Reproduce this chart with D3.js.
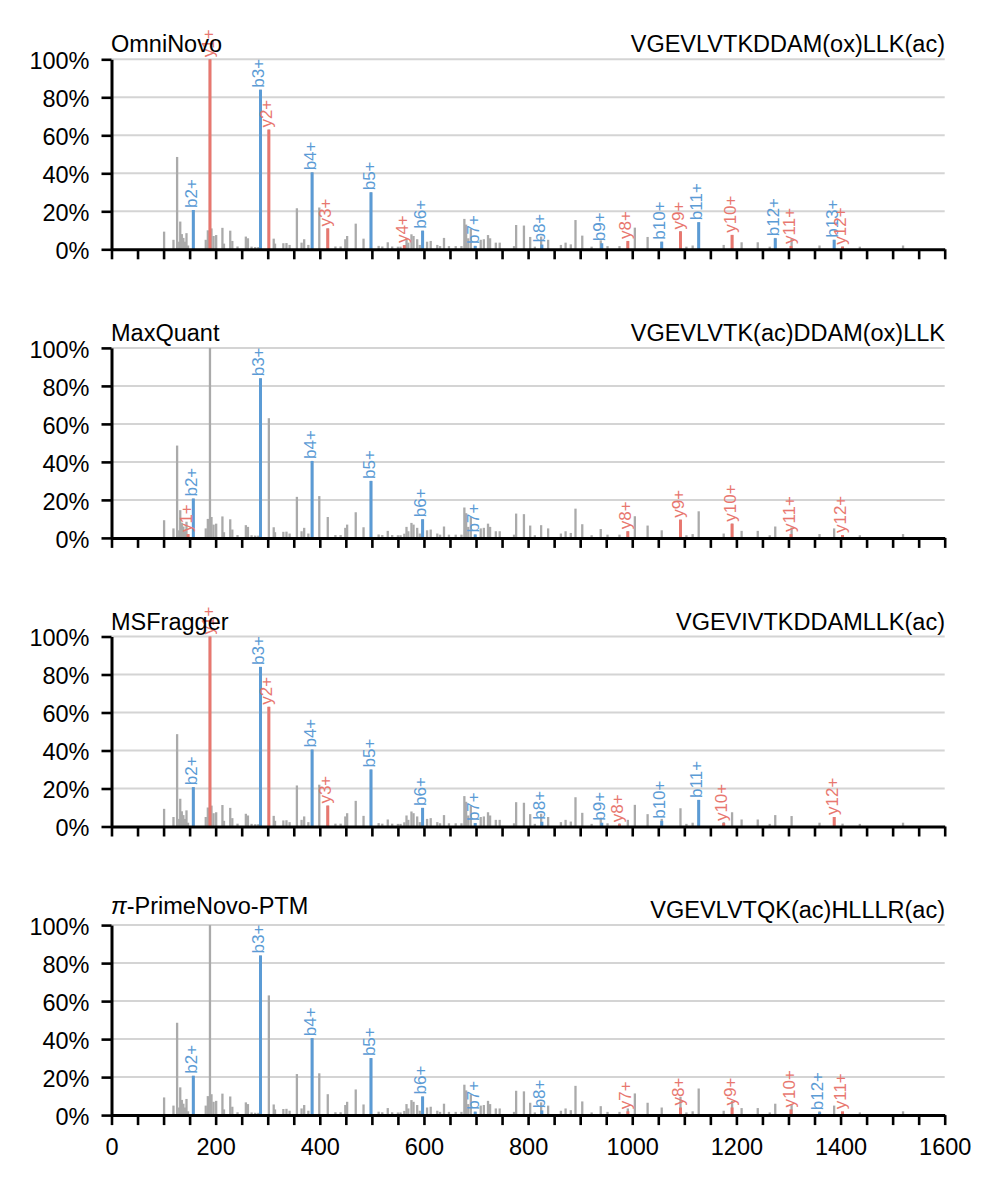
<!DOCTYPE html>
<html>
<head>
<meta charset="utf-8">
<script src="https://cdn.jsdelivr.net/npm/d3@7"></script>
<style>
html,body{margin:0;padding:0;background:#fff;}
svg{display:block;}
</style>
</head>
<body>
<svg id="chart" width="998" height="1186"></svg>
<script>
// ---- spectrum (shared by all panels): m/z and relative intensity (%) ----
const peakMz = [101,119,126,130,132,135,138,141,144,147,157.1,181,185,189.1,192,196,201,213,216,228,232,242,258,262,269,276,282,286.1,302.2,311.5,314,330,336,342,356,365,370,378,385.2,399,415.3,430,440,449,452.5,469,484,498.3,513,520,530.5,539,550,555,562.3,566.5,570,576,580,587,592,597.4,606,613,625.6,631,638.5,648,661,672,677.6,681,685,690,698.4,709,715,723,727,738,745.5,773,777,792,804,813,825,838.5,863,872,882,891,904,922,939.5,952.5,975.5,991.5,1005,1029.5,1056.6,1092.6,1104,1116,1127.6,1175.6,1191.7,1210,1241,1264,1274.6,1306,1359.6,1387.7,1403.8,1437,1520];
const peakInt = [9.3,5,48.6,4,14.6,8,6,4,8.5,2,20.7,5,10,100,11,7,7.5,11.3,3,9.8,4.4,1.5,6.7,5.8,1.4,1.2,1.2,84,63,5.6,3,3.2,3.3,2.3,21.6,3.5,5.3,2.3,40.5,22,11,1.5,1.5,5.3,7,13.5,5.6,30,1.8,1.5,3.7,1.5,1.4,1.4,2.2,5.8,3.5,7.9,7,5.3,2.3,9.8,4,4.4,2.3,1.7,6,1.7,1.7,1.7,16,13,5.8,11,1.8,5,5.3,7.5,5.8,3.5,3.5,1.7,12.8,12.5,6.5,1.4,6.7,5,2.3,3.5,2.6,15.4,7.2,1.4,4.7,1.7,1.7,3.5,11.4,6.5,4,9.6,1.4,2,14,2.3,7.5,3.7,3.7,1.4,6,5.5,2,5,1.5,1.4,2];

// ---- panel titles ----
const methods = ["OmniNovo", "MaxQuant", "MSFragger", "PrimeNovo-PTM"];
const peptides = ["VGEVLVTKDDAM(ox)LLK(ac)", "VGEVLVTK(ac)DDAM(ox)LLK", "VGEVIVTKDDAMLLK(ac)", "VGEVLVTQK(ac)HLLLR(ac)"];

// ---- annotated fragment ions per panel ----
const omniLabels = ["y1+","b2+","b3+","y2+","b4+","y3+","b5+","y4+","b6+","b7+","b8+","b9+","y8+","b10+","y9+","b11+","y10+","b12+","y11+","b13+","y12+"];
const omniMz     = [189.1,157.1,286.1,302.2,385.2,415.3,498.3,562.3,597.4,698.4,826.5,941.5,991.5,1056.6,1092.6,1127.6,1191.7,1274.6,1304.8,1387.7,1403.8];
const omniInt    = [100,20.7,84,63,40.5,11,30,2.2,9.8,1.8,2.5,3.2,4.4,4,9.4,14.3,7.6,5.8,1.8,5,1.4];

const mqLabels = ["y1+","b2+","b3+","b4+","b5+","b6+","b7+","y8+","y9+","y10+","y11+","y12+"];
const mqMz     = [147.1,157.1,286.1,385.2,498.3,597.4,698.4,991.5,1092.6,1191.7,1304.8,1403.8];
const mqInt    = [2,20.7,84,40.5,30,9.8,1.8,3.5,9.6,7.5,2,1.5];

const msfLabels = ["y1+","b2+","b3+","y2+","b4+","y3+","b5+","b6+","b7+","b8+","b9+","y8+","b10+","b11+","y10+","y12+"];
const msfMz     = [189.1,157.1,286.1,302.2,385.2,415.3,498.3,597.4,698.4,826.5,941.5,975.5,1056.6,1127.6,1175.6,1387.8];
const msfInt    = [100,20.7,84,63,40.5,11,30,9.8,1.8,2.5,2,1.2,3,14,1.8,5];

const pnLabels = ["b2+","b3+","b4+","b5+","b6+","b7+","b8+","y7+","y8+","y9+","y10+","b12+","y11+"];
const pnMz     = [157.1,286.1,385.2,498.3,597.4,698.4,826.4,991.6,1092.6,1191.7,1304.8,1359.8,1403.8];
const pnInt    = [20.7,84,40.5,30,9.8,1.8,2.5,2,4,4,3,1.5,2];

const annLabels = [omniLabels, mqLabels, msfLabels, pnLabels];
const annMz = [omniMz, mqMz, msfMz, pnMz];
const annInt = [omniInt, mqInt, msfInt, pnInt];

const yTicks = [0,20,40,60,80,100];
const xTicks = d3.range(0, 1601, 50);
const xLabelTicks = [0,200,400,600,800,1000,1200,1400,1600];

// ---- drawing ----
const FONT = "'Liberation Sans', Arial, Helvetica, sans-serif";
const GREY = "#aaaaaa", BLUE = "#5b9bd5", RED = "#e8776f", GRID = "#d4d4d4";
const svg = d3.select("#chart");
const x = d3.scaleLinear().domain([0, 1600]).range([111.5, 944.7]);
const panelH = 190, firstBase = 249.3, step = 288.6;

for (let i = 0; i < 4; i++) {
  const base = firstBase + i * step;
  const y = d3.scaleLinear().domain([0, 100]).range([base, base - panelH]);
  const g = svg.append("g");

  // gridlines
  g.append("g").selectAll("line").data(yTicks.filter(d => d > 0)).join("line")
    .attr("x1", x(0)).attr("x2", x(1600))
    .attr("y1", d => y(d)).attr("y2", d => y(d))
    .attr("stroke", GRID).attr("stroke-width", 2);

  // grey spectrum peaks
  const peaks = peakMz.map((m, k) => ({mz: m, v: peakInt[k]}));
  g.append("g").selectAll("line").data(peaks).join("line")
    .attr("x1", d => x(d.mz)).attr("x2", d => x(d.mz))
    .attr("y1", y(0)).attr("y2", d => y(d.v))
    .attr("stroke", GREY).attr("stroke-width", 2.3);

  // annotated ions
  const anns = annLabels[i].map((l, k) => ({label: l, mz: annMz[i][k], v: annInt[i][k]}));
  const col = d => d.label[0] === "b" ? BLUE : RED;
  g.append("g").selectAll("line").data(anns).join("line")
    .attr("x1", d => x(d.mz)).attr("x2", d => x(d.mz))
    .attr("y1", y(0)).attr("y2", d => y(d.v))
    .attr("stroke", col).attr("stroke-width", 3);
  g.append("g").selectAll("text").data(anns).join("text")
    .attr("transform", d => `translate(${x(d.mz) + 3.6},${y(d.v) - 2}) rotate(-90)`)
    .attr("font-family", FONT).attr("font-size", 17)
    .attr("fill", col)
    .text(d => d.label);

  // x axis
  const xa = g.append("g").attr("transform", `translate(0,${base})`)
    .call(d3.axisBottom(x).tickValues(xTicks).tickSize(10).tickSizeOuter(0).tickPadding(8)
      .tickFormat(d => (i === 3 && xLabelTicks.includes(d)) ? d : ""));
  xa.select(".domain").attr("stroke", "#000").attr("stroke-width", 3);
  xa.selectAll(".tick line").attr("stroke", "#000").attr("stroke-width", 2.6);
  xa.selectAll(".tick text").attr("font-family", FONT).attr("font-size", 23.5).attr("fill", "#000")
    .attr("dy", null).attr("y", 40).attr("dominant-baseline", "auto");

  // y axis
  const ya = g.append("g").attr("transform", `translate(${x(0)},0)`)
    .call(d3.axisLeft(y).tickValues(yTicks).tickSize(10).tickSizeOuter(0).tickPadding(12)
      .tickFormat(d => d + "%"));
  ya.select(".domain").attr("stroke", "#000").attr("stroke-width", 3);
  ya.selectAll(".tick line").attr("stroke", "#000").attr("stroke-width", 2.6);
  ya.selectAll(".tick text").attr("font-family", FONT).attr("font-size", 23.5).attr("fill", "#000")
    .attr("dy", null).attr("y", 9.2);

  // titles
  const top = base - panelH;
  const lt = g.append("text").attr("x", 111).attr("y", i === 3 ? top - 11 : top - 7)
    .attr("font-family", FONT).attr("font-size", 23.5).attr("fill", "#000");
  if (i === 3) {
    lt.append("tspan").attr("font-style", "italic").text("π");
    lt.append("tspan").text("-" + methods[i]);
  } else {
    lt.text(methods[i]);
  }
  g.append("text").attr("x", 945).attr("y", top - 7).attr("text-anchor", "end")
    .attr("font-family", FONT).attr("font-size", 23.5).attr("fill", "#000")
    .text(peptides[i]);
}
</script>
</body>
</html>
